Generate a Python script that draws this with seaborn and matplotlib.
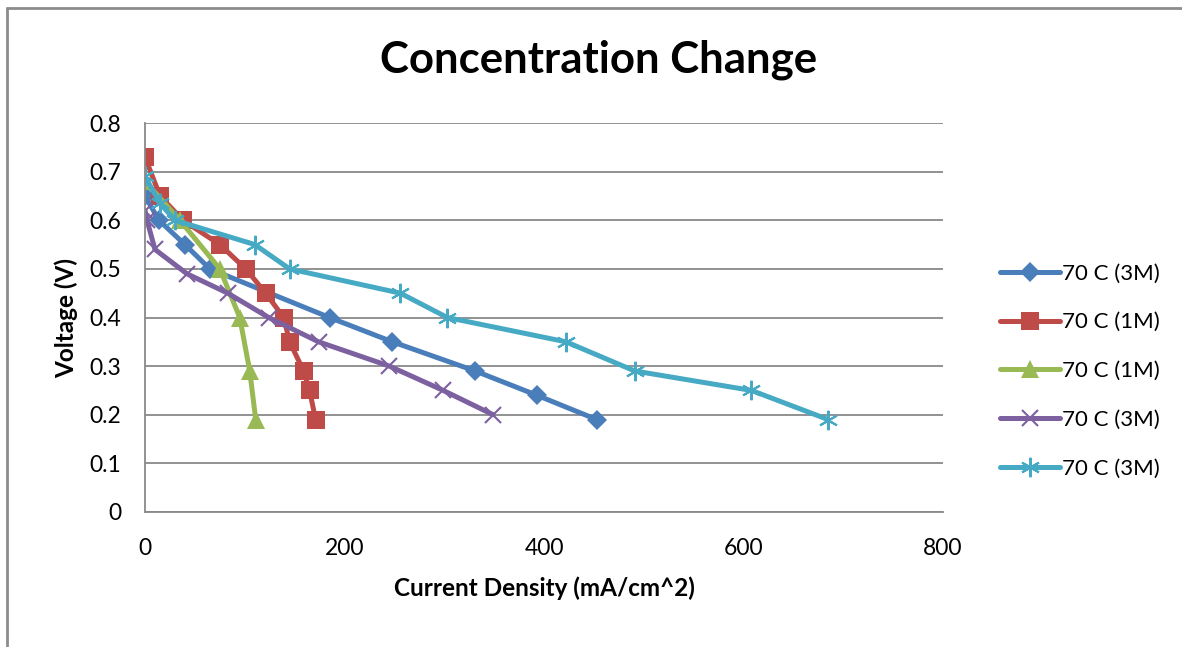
import matplotlib
matplotlib.use("Agg")
import matplotlib.pyplot as plt
from matplotlib.lines import Line2D
import seaborn as sns

# Polarization curves: current density (mA/cm^2) vs. cell voltage (V)
labels = ["70 C (3M)", "70 C (1M)", "70 C (1M)", "70 C (3M)", "70 C (3M)"]

blue_x = [0, 14, 40, 65, 185, 248, 331, 393, 453]
blue_y = [0.65, 0.60, 0.55, 0.50, 0.40, 0.35, 0.29, 0.24, 0.19]

red_x = [0, 15, 38, 75, 101, 121, 139, 145, 159, 165, 171]
red_y = [0.73, 0.65, 0.60, 0.55, 0.50, 0.45, 0.40, 0.35, 0.29, 0.25, 0.19]

green_x = [0, 35, 75, 95, 105, 111]
green_y = [0.68, 0.60, 0.50, 0.40, 0.29, 0.19]

purple_x = [0, 2, 10, 42, 83, 124, 174, 245, 299, 349]
purple_y = [0.62, 0.60, 0.54, 0.49, 0.45, 0.40, 0.35, 0.30, 0.25, 0.20]

cyan_x = [0, 15, 30, 110, 145, 256, 303, 422, 491, 608, 685]
cyan_y = [0.69, 0.635, 0.60, 0.55, 0.50, 0.45, 0.40, 0.35, 0.29, 0.25, 0.19]

x_ticks = [0, 200, 400, 600, 800]
y_ticks = [0, 0.1, 0.2, 0.3, 0.4, 0.5, 0.6, 0.7, 0.8]

series = [
    (blue_x, blue_y, "#4A7EBB", "D", 10.5, 0),
    (red_x, red_y, "#BE4B48", "s", 12.5, 0),
    (green_x, green_y, "#98B954", "^", 13, 0),
    (purple_x, purple_y, "#7D60A0", "x", 12, 1.5),
    (cyan_x, cyan_y, "#46AAC5", (6, 2, 0), 14, 1.5),
]

sns.set_theme(style="white")
plt.rcParams["font.family"] = ["Lato", "DejaVu Sans"]
plt.rcParams["text.color"] = "black"
plt.rcParams["axes.labelcolor"] = "black"

fig = plt.figure(figsize=(11.82, 6.47), dpi=100)
ax = fig.add_axes([145 / 1182, 1 - 512 / 647, (943 - 145) / 1182, (512 - 123) / 647])

for (xs, ys, color, mk, ms, mew), lab in zip(series, labels):
    kw = dict(markeredgewidth=mew, markeredgecolor=color) if mew else dict(markeredgewidth=0)
    sns.lineplot(x=xs, y=ys, ax=ax, sort=False, color=color, linewidth=3.6,
                 marker=mk, markersize=ms, label=lab, markerfacecolor=color,
                 solid_capstyle="round", solid_joinstyle="round", **kw)

grid_c = "#898989"
ax.set_xlim(0, 800)
ax.set_ylim(0, 0.8)
ax.set_xticks(x_ticks)
ax.set_yticks(y_ticks)
ax.set_xticklabels([str(v) for v in x_ticks])
ax.set_yticklabels(["0"] + [f"{v:.1f}" for v in y_ticks[1:]])
ax.yaxis.grid(True, color=grid_c, linewidth=1.3)
ax.xaxis.grid(False)
for side in ("top", "right"):
    ax.spines[side].set_visible(False)
for side in ("left", "bottom"):
    ax.spines[side].set_color(grid_c)
    ax.spines[side].set_linewidth(1.3)
ax.tick_params(axis="both", which="both", direction="out", length=7, width=1.3,
               color=grid_c, labelsize=16.5, labelcolor="black", pad=6)
ax.tick_params(axis="x", pad=12)
ax.tick_params(axis="y", pad=10)

ax.set_xlabel("Current Density (mA/cm^2)", fontsize=17.5, fontweight="bold", labelpad=12)
ax.set_ylabel("Voltage (V)", fontsize=17.5, fontweight="bold", labelpad=8)

fig.text(599 / 1182, 1 - 60 / 647, "Concentration Change", ha="center", va="center",
         fontsize=31.5, fontweight="bold")

leg = ax.legend(loc="center left", bbox_to_anchor=(1.06, 0.362), frameon=False,
                fontsize=16, handlelength=2.7, labelspacing=1.3, handletextpad=0.1,
                borderaxespad=0)

# chart-area border
border = "#8C8C8C"
fig.add_artist(Line2D([7 / 1182, 7 / 1182], [0, 1 - 8 / 647], transform=fig.transFigure,
                      color=border, linewidth=2))
fig.add_artist(Line2D([7 / 1182, 1], [1 - 8 / 647, 1 - 8 / 647], transform=fig.transFigure,
                      color=border, linewidth=2))

fig.savefig("out.png", dpi=100, facecolor="white")
